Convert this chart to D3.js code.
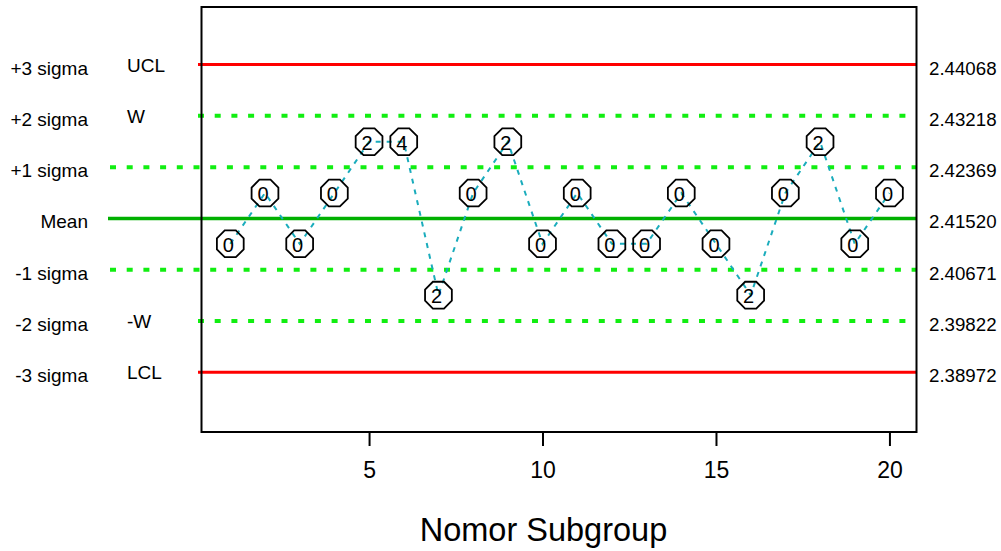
<!DOCTYPE html>
<html>
<head>
<meta charset="utf-8">
<script src="https://cdn.jsdelivr.net/npm/d3@7"></script>
<style>
body { margin: 0; background: #fff; }
svg { display: block; font-family: 'Liberation Sans', Arial, sans-serif; }
</style>
</head>
<body>
<svg class="chart"></svg>
<script>
// subgroup means
var subgroups = [1, 2, 3, 4, 5, 6, 7, 8, 9, 10, 11, 12, 13, 14, 15, 16, 17, 18, 19, 20];
var subgroupMeans = [2.4110, 2.4194, 2.4110, 2.4194, 2.4279, 2.4279, 2.4025, 2.4194, 2.4279, 2.4110,
                     2.4194, 2.4110, 2.4110, 2.4194, 2.4110, 2.4025, 2.4194, 2.4279, 2.4110, 2.4194];
var pointLabels = [0, 0, 0, 0, 2, 4, 2, 0, 2, 0, 0, 0, 0, 0, 0, 2, 0, 2, 0, 0];

var limitValues = [2.44068, 2.43218, 2.42369, 2.41520, 2.40671, 2.39822, 2.38972];
var limitTexts = ['2.44068', '2.43218', '2.42369', '2.41520', '2.40671', '2.39822', '2.38972'];
var sigmaNames = ['+3 sigma', '+2 sigma', '+1 sigma', 'Mean', '-1 sigma', '-2 sigma', '-3 sigma'];
var limitNames = ['UCL', 'W', '', '', '', '-W', 'LCL'];
var xTicks = [5, 10, 15, 20];
var xTitle = 'Nomor Subgroup';

var lineKinds = ['limit', 'warn', 'sigma', 'mean', 'sigma', 'warn', 'limit'];
var lineStyles = {
    limit: {color: '#ff0000', width: 3, dash: null, x0: 198},
    warn:  {color: '#11ee11', width: 4, dash: '6,10.7', x0: 198},
    sigma: {color: '#11ee11', width: 4, dash: '6,10.7', x0: 110},
    mean:  {color: '#00b000', width: 3.5, dash: null, x0: 108}
};

var ControlChart = {
    fields: {
        chart: null,
        x: null,
        y: null,
        left: 201.5,
        right: 916.5,
        top: 7,
        bottom: 432
    },
    setChart: function (classname) {
        this.fields.chart = d3.select(classname).attr('width', 1001).attr('height', 551);
        return this.fields.chart;
    },
    setScales: function () {
        var f = this.fields;
        f.x = d3.scaleLinear().domain([0.17, 20.78]).range([f.left, f.right]);
        f.y = d3.scaleLinear().domain([2.37985, 2.4502]).range([f.bottom, f.top]);
    },
    drawLimits: function () {
        var f = this.fields;
        f.chart.append('g').selectAll('line').data(limitValues).enter().append('line')
            .attr('x1', function (d, i) { return lineStyles[lineKinds[i]].x0; })
            .attr('x2', f.right)
            .attr('y1', function (d) { return f.y(d); })
            .attr('y2', function (d) { return f.y(d); })
            .attr('stroke', function (d, i) { return lineStyles[lineKinds[i]].color; })
            .attr('stroke-width', function (d, i) { return lineStyles[lineKinds[i]].width; })
            .attr('stroke-dasharray', function (d, i) { return lineStyles[lineKinds[i]].dash; });
    },
    drawFrame: function () {
        var f = this.fields;
        f.chart.append('rect')
            .attr('x', f.left).attr('y', f.top)
            .attr('width', f.right - f.left).attr('height', f.bottom - f.top)
            .attr('fill', 'none').attr('stroke', '#000').attr('stroke-width', 2);
    },
    drawAxis: function () {
        var f = this.fields;
        var ax = f.chart.append('g')
            .attr('transform', 'translate(0,' + f.bottom + ')')
            .call(d3.axisBottom(f.x).tickValues(xTicks).tickSize(14).tickFormat(d3.format('d')));
        ax.select('.domain').remove();
        ax.selectAll('.tick line').attr('stroke', '#000').attr('stroke-width', 2);
        ax.selectAll('.tick text')
            .attr('y', 45.5).attr('dy', null)
            .attr('font-size', 23).attr('font-family', null).attr('fill', '#000');

        f.chart.append('text')
            .attr('x', 543.5).attr('y', 541)
            .attr('text-anchor', 'middle')
            .attr('font-size', 32.5)
            .text(xTitle);
    },
    drawLabels: function () {
        var f = this.fields;
        f.chart.append('g').selectAll('text').data(sigmaNames).enter().append('text')
            .attr('x', 88)
            .attr('y', function (d, i) { return f.y(limitValues[i]) + 10; })
            .attr('text-anchor', 'end')
            .attr('font-size', 19)
            .text(function (d) { return d; });

        f.chart.append('g').selectAll('text').data(limitNames).enter().append('text')
            .attr('x', 127)
            .attr('y', function (d, i) { return f.y(limitValues[i]) + 7; })
            .attr('font-size', 19)
            .text(function (d) { return d; });

        f.chart.append('g').selectAll('text').data(limitTexts).enter().append('text')
            .attr('x', 929)
            .attr('y', function (d, i) { return f.y(limitValues[i]) + 10; })
            .attr('font-size', 18.7)
            .text(function (d) { return d; });
    },
    drawPoints: function () {
        var f = this.fields;
        var line = d3.line()
            .x(function (d, i) { return f.x(subgroups[i]); })
            .y(function (d) { return f.y(d); });
        f.chart.append('path')
            .attr('d', line(subgroupMeans))
            .attr('fill', 'none')
            .attr('stroke', '#1aacbc')
            .attr('stroke-width', 2)
            .attr('stroke-dasharray', '5,6');

        // flat-topped octagon
        var r = 14.5;
        var octo = [];
        for (var k = 0; k < 8; k++) {
            var a = Math.PI / 8 + k * Math.PI / 4;
            octo.push([r * Math.cos(a), r * Math.sin(a)]);
        }
        var octoPath = d3.line().curve(d3.curveLinearClosed)(octo);

        var pts = f.chart.append('g').selectAll('g').data(subgroupMeans).enter().append('g')
            .attr('transform', function (d, i) {
                return 'translate(' + f.x(subgroups[i]) + ',' + f.y(d) + ')';
            });
        pts.append('path')
            .attr('d', octoPath)
            .attr('fill', 'none')
            .attr('stroke', '#000')
            .attr('stroke-width', 1.8);
        pts.append('text')
            .attr('x', -2).attr('y', 8)
            .attr('text-anchor', 'middle')
            .attr('font-size', 20)
            .text(function (d, i) { return pointLabels[i]; });
    }
};

ControlChart.setChart('.chart');
ControlChart.setScales();
ControlChart.drawLimits();
ControlChart.drawFrame();
ControlChart.drawAxis();
ControlChart.drawLabels();
ControlChart.drawPoints();
</script>
</body>
</html>
